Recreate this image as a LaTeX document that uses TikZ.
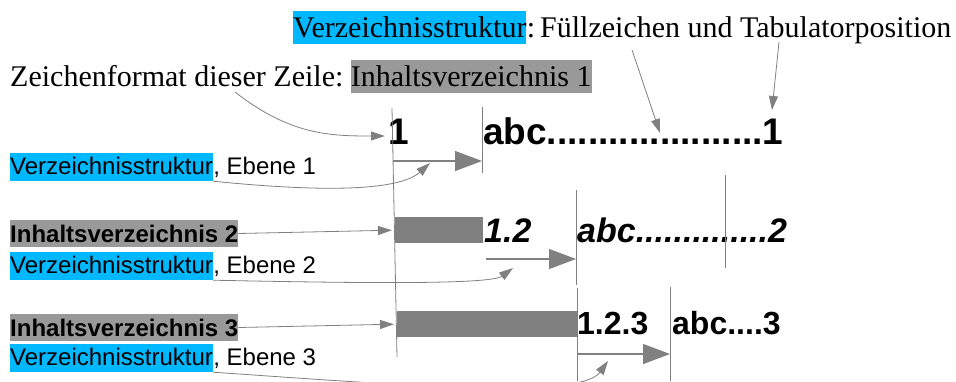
\documentclass[tikz,border=0pt]{standalone}
\usepackage{fontspec}
\setmainfont{Liberation Serif}
\setsansfont{Liberation Sans}
\usetikzlibrary{arrows.meta}

\definecolor{hlblue}{RGB}{0,184,255}
\definecolor{hlgray}{RGB}{153,153,153}
\definecolor{bargray}{RGB}{128,128,128}

\begin{document}
\begin{tikzpicture}[x=1pt,y=-1pt,
  serif/.style={font=\fontsize{30}{36}\selectfont, inner sep=0pt, text height=26pt, text depth=7pt, anchor=base west},
  sans/.style={font=\sffamily\fontsize{24}{28}\selectfont, inner sep=0pt, text height=21pt, text depth=7pt, anchor=base west},
  sansbold/.style={font=\sffamily\bfseries\fontsize{24}{28}\selectfont, inner sep=0pt, text height=22pt, text depth=5pt, anchor=base west},
  tabtext/.style={font=\sffamily\bfseries\fontsize{#1}{#1}\selectfont, inner sep=0pt, anchor=base west},
  tabital/.style={tabtext=#1, font=\sffamily\bfseries\itshape\fontsize{#1}{#1}\selectfont},
  bar/.style={fill=bargray, inner sep=0pt, anchor=north west},
  tabline/.style={draw=bargray, line width=0.8pt},
  ptr/.style={draw=bargray, line width=0.8pt, -{Triangle[length=14pt,width=9pt]}},
  tabptr/.style={draw=bargray, line width=1.2pt, -{Triangle[length=27pt,width=20pt]}},
]
\useasboundingbox (0,0) rectangle (956,381);
\clip (0,0) rectangle (956,381);

% Text Node
\node[serif, fill=hlblue] (vzs) at (293,37) {Verzeichnisstruktur};
\node[serif] (vzsrest) at (vzs.base east) {:\kern5pt Füllzeichen und Tabulatorposition};
% Text Node
\node[serif] (zf) at (10,86) {Zeichenformat dieser Zeile:\kern7pt};
\node[serif, fill=hlgray] (iv1) at (zf.base east) {Inhaltsverzeichnis 1};

% Text Node
\node[sans, fill=hlblue] (vz1) at (10,174) {Verzeichnisstruktur};
\node[sans] (eb1) at (vz1.base east) {, Ebene 1};
\node[sansbold, fill=hlgray] (iv2) at (10,242) {Inhaltsverzeichnis 2};
\node[sans, fill=hlblue] (vz2) at (10,273) {Verzeichnisstruktur};
\node[sans] (eb2) at (vz2.base east) {, Ebene 2};
\node[sansbold, fill=hlgray] (iv3) at (10,336) {Inhaltsverzeichnis 3};
\node[sans, fill=hlblue] (vz3) at (10,365) {Verzeichnisstruktur};
\node[sans] (eb3) at (vz3.base east) {, Ebene 3};

%Shape: Rectangle
\node[bar, minimum width=88pt, minimum height=26pt] (bar2) at (395,217) {};
\node[bar, minimum width=180pt, minimum height=26pt] (bar3) at (397,311) {};

% Text Node
\node[tabtext=37] (num1) at (388,144) {1};
\node[tabtext=37] (ent1) at (483,144) {abc.....................1};
\node[tabital=34] (num2) at (484,242) {1.2};
\node[tabital=34] (ent2) at (577,242) {abc..............2};
\node[tabtext=32] (num3) at (577,334) {1.2.3};
\node[tabtext=32] (ent3) at (672,334) {abc....3};

%Straight Lines
\draw[tabline] (392,108) -- (397,357);
\draw[tabline] (482,107) -- (482,173);
\draw[tabline] (576,190) -- (576,285);
\draw[tabline] (725,175) -- (725,268);
\draw[tabline] (577,288) -- (577,381);
\draw[tabline] (670,287) -- (670,381);

% tab positions
\coordinate (tab1) at (482,161);
\coordinate (tab2) at (576,259);
\coordinate (tab3) at (670,354);
\draw[tabptr] (393,161) -- (tab1);
\draw[tabptr] (486,259) -- (tab2);
\draw[tabptr] (577,354) -- (tab3);

% paragraph styles
\draw[ptr] (iv2.east) -- ([xshift=-3pt]bar2.west);
\draw[ptr] (iv3.east) -- ([xshift=-3pt]bar3.west);

%Curve Lines
\coordinate (zfdot) at (235,92);
\coordinate (num1tip) at (385,136);
\draw[ptr] (zfdot) .. controls (290,135) and (330,136) .. (num1tip);
\coordinate (lvl1) at (430,163);
\coordinate (lvl2) at (513,268);
\coordinate (lvl3) at (608,361);
\draw[ptr] (vz1.south east) .. controls (330,193) and (400,190) .. (lvl1);
\draw[ptr] (vz2.south east) .. controls (350,283) and (490,285) .. (lvl2);
\draw[ptr] (vz3.south east) .. controls (400,385) and (580,400) .. (lvl3);

% Fill character and tab position
\coordinate (fill) at (632,50);
\coordinate (filltip) at (660,133);
\coordinate (tabpos) at (779,42);
\coordinate (tabpostip) at (772,110);
\draw[ptr] (fill) -- (filltip);
\draw[ptr] (tabpos) -- (tabpostip);

\end{tikzpicture}
\end{document}
